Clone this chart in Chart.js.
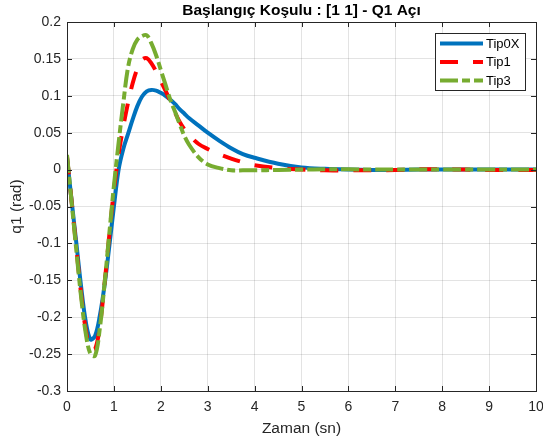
<!DOCTYPE html>
<html>
<head>
<meta charset="utf-8">
<script src="https://cdn.jsdelivr.net/npm/chart.js@4/dist/chart.umd.min.js"></script>
<style>
  html, body { margin: 0; padding: 0; background: #ffffff; }
  #wrap { width: 543px; height: 444px; }
</style>
</head>
<body>
<div id="wrap"><canvas id="q1Chart" width="543" height="444"></canvas></div>
<script>
// zaman (sn)
const timeSn = [0, 0.1, 0.2, 0.3, 0.4, 0.5, 0.6, 0.7, 0.8, 0.9,
    1.0, 1.1, 1.2, 1.3, 1.4, 1.5, 1.6, 1.7, 1.8, 1.9,
    2.0, 2.1, 2.2, 2.3, 2.4, 2.5, 2.6,
    2.8, 3.0, 3.25, 3.5, 3.75, 4.0, 4.5, 5.0, 5.5, 6.0,
    6.5, 7.0, 7.5, 8.0, 8.5, 9.0, 9.5, 10.0];

const tip0X = [0.016, -0.043, -0.100, -0.158, -0.206, -0.230, -0.225, -0.198, -0.157, -0.105,
    -0.050, 0.000, 0.028, 0.048, 0.068, 0.086, 0.099, 0.106, 0.108, 0.107,
    0.104, 0.100, 0.095, 0.089, 0.082, 0.076, 0.070,
    0.060, 0.050, 0.039, 0.029, 0.021, 0.016, 0.008, 0.003, 0.001, 0.000,
    -0.0005, -0.0005, 0.000, 0.000, 0.000, 0.000, 0.000, 0.000];

const tip1 = [0.018, -0.044, -0.107, -0.168, -0.217, -0.243, -0.243, -0.212, -0.155, -0.090,
    -0.028, 0.021, 0.058, 0.090, 0.117, 0.137, 0.149, 0.151, 0.144, 0.133,
    0.120, 0.107, 0.093, 0.078, 0.065, 0.055, 0.047,
    0.035, 0.028, 0.021, 0.015, 0.010, 0.006, 0.002, 0.000, -0.001, -0.001,
    -0.001, -0.0005, 0.0005, 0.0005, 0.000, -0.0005, -0.0005, -0.0005];

const tip3 = [0.020, -0.045, -0.110, -0.172, -0.222, -0.250, -0.252, -0.215, -0.155, -0.088,
    -0.022, 0.036, 0.090, 0.138, 0.163, 0.176, 0.181, 0.182, 0.171, 0.155,
    0.135, 0.115, 0.095, 0.079, 0.062, 0.046, 0.034,
    0.017, 0.007, 0.002, -0.001, -0.001, -0.001, -0.0005, 0.000, 0.0005, 0.0005,
    0.000, 0.000, 0.000, 0.000, 0.000, 0.000, 0.000, 0.000];

const seriesNames = ['Tip0X', 'Tip1', 'Tip3'];
const xTicks = [0, 1, 2, 3, 4, 5, 6, 7, 8, 9, 10];
const yTicks = [-0.3, -0.25, -0.2, -0.15, -0.1, -0.05, 0, 0.05, 0.1, 0.15, 0.2];

const chartTitle = 'Başlangıç Koşulu : [1 1] - Q1 Açı';
const xLabel = 'Zaman (sn)';
const yLabel = 'q1 (rad)';

const FONT = '"Liberation Sans", Arial, Helvetica, sans-serif';
const AXIS_COLOR = '#262626';

function toPoints(values) {
    return values.map((v, i) => ({ x: timeSn[i], y: v }));
}

const styles = [
    { color: '#0072BD', dash: [] },
    { color: '#FF0000', dash: [18, 15] },
    { color: '#77AC30', dash: [18, 4, 8, 4] }
];

// inward ticks + full box like matlab
const axesBoxPlugin = {
    id: 'axesBox',
    afterDatasetsDraw(chart) {
        const { ctx, chartArea: a, scales } = chart;
        ctx.save();
        ctx.strokeStyle = AXIS_COLOR;
        ctx.lineWidth = 1;
        ctx.beginPath();
        xTicks.forEach(v => {
            const px = Math.round(scales.x.getPixelForValue(v)) + 0.5;
            ctx.moveTo(px, a.bottom); ctx.lineTo(px, a.bottom - 5);
            ctx.moveTo(px, a.top); ctx.lineTo(px, a.top + 5);
        });
        yTicks.forEach(v => {
            const py = Math.round(scales.y.getPixelForValue(v)) + 0.5;
            ctx.moveTo(a.left, py); ctx.lineTo(a.left + 5, py);
            ctx.moveTo(a.right, py); ctx.lineTo(a.right - 5, py);
        });
        ctx.stroke();
        ctx.strokeRect(Math.round(a.left) + 0.5, Math.round(a.top) + 0.5,
            Math.round(a.right - a.left), Math.round(a.bottom - a.top));
        ctx.restore();
    },
    afterDraw(chart) {
        const { ctx, chartArea: a } = chart;
        ctx.save();
        // title
        ctx.fillStyle = '#000000';
        ctx.font = 'bold 15.5px ' + FONT;
        ctx.textAlign = 'center';
        ctx.textBaseline = 'middle';
        ctx.fillText(chartTitle, (a.left + a.right) / 2, 11);

        // legend
        const lx = 435.5, ly = 33.5, lw = 90, lh = 57;
        ctx.fillStyle = '#ffffff';
        ctx.fillRect(lx, ly, lw, lh);
        ctx.strokeStyle = AXIS_COLOR;
        ctx.lineWidth = 1;
        ctx.strokeRect(lx, ly, lw, lh);
        const rows = [43.5, 62, 80.5];
        ctx.font = '13px ' + FONT;
        ctx.textAlign = 'left';
        seriesNames.forEach((name, i) => {
            ctx.strokeStyle = styles[i].color;
            ctx.lineWidth = 4;
            ctx.lineCap = 'butt';
            ctx.setLineDash(styles[i].dash);
            ctx.beginPath();
            ctx.moveTo(440, rows[i]);
            ctx.lineTo(483, rows[i]);
            ctx.stroke();
            ctx.setLineDash([]);
            ctx.fillStyle = '#000000';
            ctx.fillText(name, 486, rows[i] + 0.5);
        });
        ctx.restore();
    }
};

const datasets = [tip0X, tip1, tip3].map((vals, i) => ({
    label: seriesNames[i],
    data: toPoints(vals),
    borderColor: styles[i].color,
    backgroundColor: styles[i].color,
    borderWidth: 4,
    borderDash: styles[i].dash,
    borderCapStyle: 'butt',
    borderJoinStyle: 'round',
    pointRadius: 0,
    tension: 0.35,
    fill: false,
    order: 3 - i
}));

const tickFont = { family: FONT, size: 14 };
const titleFont = { family: FONT, size: 15.5 };

new Chart(document.getElementById('q1Chart').getContext('2d'), {
    type: 'line',
    data: { datasets: datasets },
    options: {
        responsive: false,
        animation: false,
        devicePixelRatio: 1,
        layout: { padding: { top: 22, right: 7, left: 0, bottom: 0 } },
        plugins: { legend: { display: false }, tooltip: { enabled: false }, title: { display: false } },
        scales: {
            x: {
                type: 'linear', min: 0, max: 10,
                afterBuildTicks: s => { s.ticks = xTicks.map(v => ({ value: v })); },
                afterFit: s => { s.height = 53; s.paddingLeft = 0; s.paddingRight = 0; },
                ticks: { color: AXIS_COLOR, font: tickFont, padding: 7.5, maxRotation: 0, autoSkip: false,
                    callback: v => String(v) },
                grid: { color: 'rgba(38,38,38,0.13)', lineWidth: 1, drawTicks: false },
                border: { display: false },
                title: { display: true, text: xLabel, color: AXIS_COLOR, font: titleFont, padding: { top: 0, bottom: 5.7 } }
            },
            y: {
                type: 'linear', min: -0.3, max: 0.2,
                afterBuildTicks: s => { s.ticks = yTicks.map(v => ({ value: v })); },
                afterFit: s => { s.width = 67; s.paddingTop = 0; s.paddingBottom = 0; },
                ticks: { color: AXIS_COLOR, font: tickFont, padding: 6, autoSkip: false,
                    callback: v => String(+Number(v).toFixed(2)) },
                grid: { color: 'rgba(38,38,38,0.13)', lineWidth: 1, drawTicks: false },
                border: { display: false },
                title: { display: true, text: yLabel, color: AXIS_COLOR, font: titleFont, padding: { top: 7.7, bottom: 0 } }
            }
        }
    },
    plugins: [axesBoxPlugin]
});
</script>
</body>
</html>
